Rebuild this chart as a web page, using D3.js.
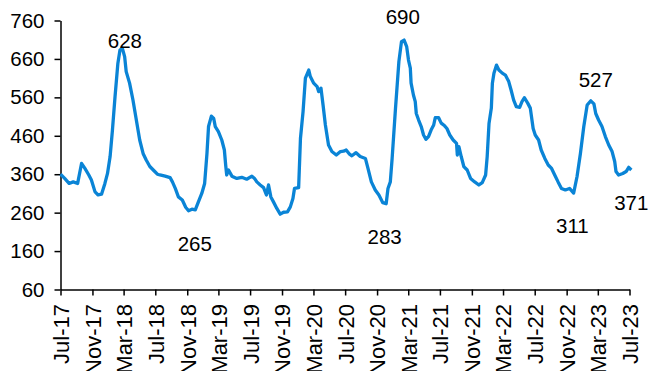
<!DOCTYPE html>
<html>
<head>
<meta charset="utf-8">
<script src="https://cdn.jsdelivr.net/npm/d3@7"></script>
<style>
  html, body { margin: 0; padding: 0; background: #ffffff; }
  svg { display: block; }
  text { font-family: "Liberation Sans", Arial, sans-serif; fill: #000; }
</style>
</head>
<body>
<svg id="chart" width="648" height="371"></svg>
<script>
// Weekly-ish series: observation dates and values
const dates = [
  "2017-07-01","2017-07-17","2017-08-03","2017-08-19","2017-09-05","2017-09-20","2017-10-03","2017-10-18",
  "2017-10-28","2017-11-11","2017-11-23","2017-12-06","2017-12-19","2017-12-29","2018-01-08","2018-01-17",
  "2018-01-27","2018-02-07","2018-02-15","2018-02-24","2018-03-05","2018-03-11","2018-03-24","2018-04-06",
  "2018-04-19","2018-05-02","2018-05-15","2018-05-27","2018-06-10","2018-06-29","2018-07-09","2018-07-19",
  "2018-08-08","2018-08-27","2018-09-05","2018-09-16","2018-09-28","2018-10-13","2018-10-26","2018-11-06",
  "2018-11-19","2018-12-02","2018-12-14","2018-12-27","2019-01-07","2019-01-16","2019-01-22","2019-02-02",
  "2019-02-11","2019-02-17","2019-03-01","2019-03-14","2019-03-24","2019-03-29","2019-04-02","2019-04-09",
  "2019-04-22","2019-05-11","2019-05-30","2019-06-18","2019-07-08","2019-07-18","2019-07-27","2019-08-09",
  "2019-08-22","2019-09-02","2019-09-10","2019-09-19","2019-09-29","2019-10-12","2019-10-25","2019-11-07",
  "2019-11-22","2019-12-03","2019-12-13","2019-12-19","2020-01-04","2020-01-11","2020-01-21","2020-01-30",
  "2020-02-12","2020-02-18","2020-03-02","2020-03-15","2020-03-21","2020-03-30","2020-04-07","2020-04-16",
  "2020-04-28","2020-05-11","2020-05-28","2020-06-13","2020-06-25","2020-07-05","2020-07-18","2020-07-27",
  "2020-08-12","2020-08-28","2020-09-17","2020-09-27","2020-10-10","2020-10-25","2020-11-08","2020-11-23",
  "2020-12-06","2020-12-13","2020-12-22","2020-12-29","2021-01-11","2021-01-24","2021-02-03","2021-02-13",
  "2021-02-23","2021-03-02","2021-03-09","2021-03-12","2021-03-21","2021-03-28","2021-04-01","2021-04-10",
  "2021-04-20","2021-04-29","2021-05-08","2021-05-18","2021-05-28","2021-06-07","2021-06-13","2021-06-26",
  "2021-07-06","2021-07-19","2021-07-28","2021-08-08","2021-08-21","2021-09-03","2021-09-06","2021-09-12",
  "2021-09-21","2021-10-01","2021-10-14","2021-10-27","2021-11-12","2021-11-28","2021-12-11","2021-12-24",
  "2021-12-30","2022-01-06","2022-01-15","2022-01-19","2022-01-25","2022-02-04","2022-02-13","2022-02-26",
  "2022-03-10","2022-03-23","2022-04-01","2022-04-11","2022-04-21","2022-05-04","2022-05-13","2022-05-22",
  "2022-06-04","2022-06-14","2022-06-25","2022-07-03","2022-07-16","2022-07-26","2022-08-09","2022-08-22",
  "2022-09-04","2022-09-16","2022-09-29","2022-10-12","2022-10-27","2022-11-12","2022-11-28","2022-12-11",
  "2022-12-24","2023-01-06","2023-01-19","2023-02-02","2023-02-14","2023-02-21","2023-03-04","2023-03-17",
  "2023-03-30","2023-04-12","2023-04-25","2023-05-05","2023-05-10","2023-05-20","2023-06-05","2023-06-18",
  "2023-06-28","2023-07-08"
];
const values = [
  360,349,336,340,336,388,375,358,
  345,314,306,308,336,362,406,475,
  562,649,683,688,666,627,597,553,
  501,449,414,397,380,367,360,358,
  355,351,340,323,301,293,274,265,
  269,267,288,310,336,414,484,511,
  505,484,471,449,423,384,358,371,
  355,349,352,347,355,349,340,332,
  325,306,332,301,288,271,256,261,
  262,275,297,323,325,453,523,610,
  631,614,597,588,575,584,540,488,
  436,419,410,419,420,423,412,408,
  416,406,401,375,340,319,306,286,
  283,323,340,401,532,653,705,709,
  692,657,636,597,566,549,518,501,
  484,462,451,458,475,488,507,507,
  493,486,479,462,449,440,410,432,
  406,380,371,349,340,332,338,358,
  406,492,532,597,623,644,631,623,
  618,601,579,553,536,534,549,559,
  545,532,479,462,449,423,401,384,
  375,358,340,323,319,323,311,354,
  414,484,540,551,543,518,501,484,
  458,436,419,393,367,358,362,367,
  378,371
];

// Value call-outs: text, anchor date, and whether it marks a high or a low
const noteValues = [628, 265, 690, 283, 527, 311, 371];
const noteDates  = ["2018-03-06","2018-11-30","2021-02-08","2020-11-30","2023-02-21","2022-11-23","2023-07-08"];
const noteKinds  = ["high","low","high","low","high","low","low"];

// Axis ticks
const yTicks = [60, 160, 260, 360, 460, 560, 660, 760];
const xTickDates = ["2017-07-01","2017-11-01","2018-03-01","2018-07-01","2018-11-01","2019-03-01",
  "2019-07-01","2019-11-01","2020-03-01","2020-07-01","2020-11-01","2021-03-01","2021-07-01",
  "2021-11-01","2022-03-01","2022-07-01","2022-11-01","2023-03-01","2023-07-01"];

const parse = d3.timeParse("%Y-%m-%d");
const fmt = d3.timeFormat("%b-%y");

const svg = d3.select("#chart");
const plotLeft = 60.5, plotRight = 629.5, plotTop = 20.5, plotBottom = 289.5;

const x = d3.scaleTime()
  .domain([parse("2017-07-01"), parse("2023-07-01")])
  .range([plotLeft, plotRight]);
const y = d3.scaleLinear()
  .domain([60, 760])
  .range([plotBottom, plotTop]);

const series = dates.map((d, i) => ({ date: parse(d), value: values[i] }));

// Axes
const yAxis = d3.axisLeft(y).tickValues(yTicks).tickSizeInner(6).tickSizeOuter(0).tickPadding(10);
const gy = svg.append("g").attr("transform", `translate(${plotLeft},0)`).call(yAxis);
gy.selectAll("text").style("font-size", "20.5px");

const xAxis = d3.axisBottom(x).tickValues(xTickDates.map(parse)).tickFormat(fmt)
  .tickSizeInner(6).tickSizeOuter(0);
const gx = svg.append("g").attr("transform", `translate(0,${plotBottom})`).call(xAxis);
gx.selectAll("text")
  .style("font-size", "22px")
  .attr("text-anchor", "end")
  .attr("transform", "rotate(-90)")
  .attr("x", -14.5)
  .attr("y", 0)
  .attr("dy", "0.36em");

svg.selectAll(".domain, .tick line").attr("stroke", "#000").attr("stroke-width", 1.5);

// Series line
const line = d3.line().x(d => x(d.date)).y(d => y(d.value));
svg.append("path")
  .datum(series)
  .attr("fill", "none")
  .attr("stroke", "#0a84d6")
  .attr("stroke-width", 3.3)
  .attr("stroke-linejoin", "round")
  .attr("d", line);

// Call-out labels placed at their stated values
svg.append("g").selectAll("text")
  .data(noteValues.map((v, i) => ({ v, date: parse(noteDates[i]), kind: noteKinds[i] })))
  .join("text")
  .attr("x", d => x(d.date))
  .attr("y", d => y(d.v) + (d.kind === "high" ? -23 : 40))
  .attr("text-anchor", "middle")
  .style("font-size", "20.5px")
  .text(d => d.v);
</script>
</body>
</html>
